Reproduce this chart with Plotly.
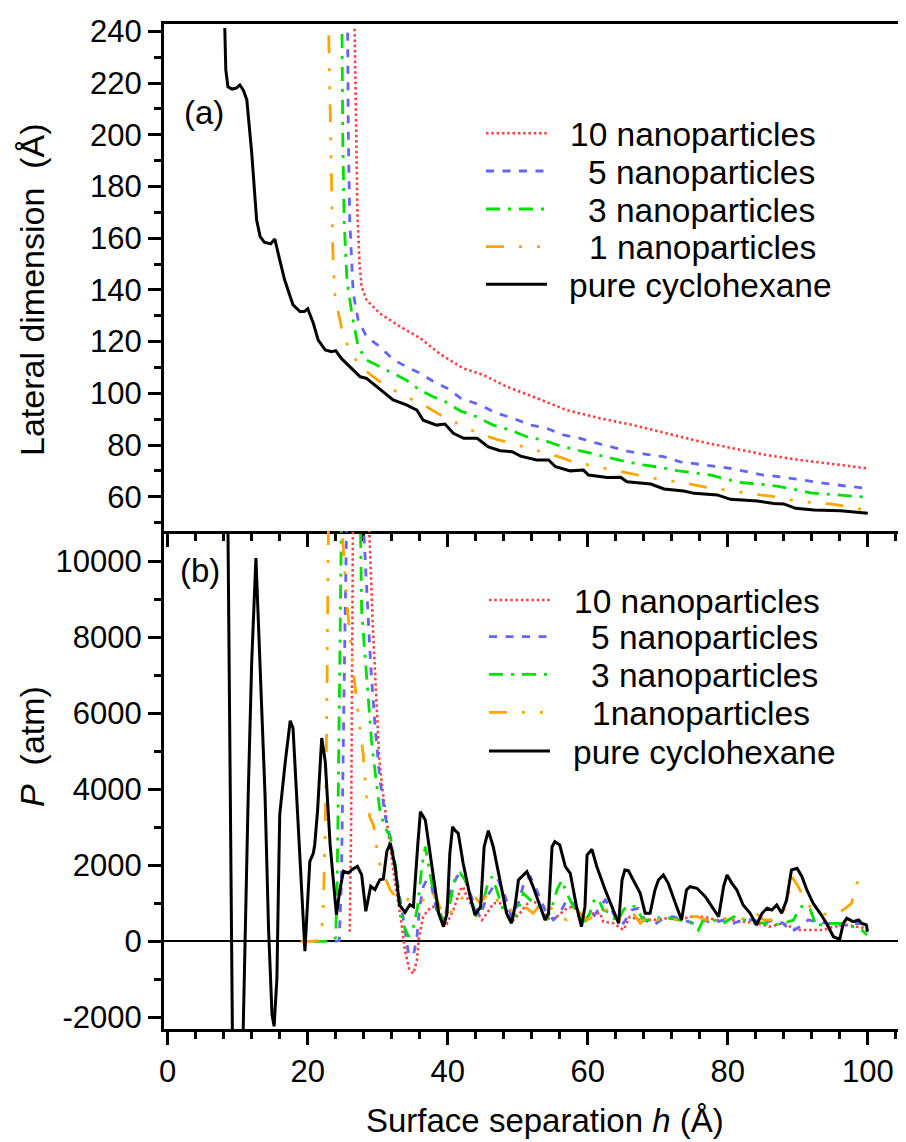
import plotly.graph_objects as go
from plotly.subplots import make_subplots

# ---- panel (a): lateral dimension vs surface separation ----
h_a_pure = [8.15, 8.3, 8.6, 9.2, 9.8, 10.3, 10.8, 11.3, 12.0, 12.7, 13.2, 13.8, 14.7, 15.3, 16.0, 16.7,
            17.9, 18.9, 19.5, 20.0, 20.8, 21.5, 22.5, 23.4, 24.0, 24.8, 26.0, 27.5, 28.4, 29.9, 32.2,
            34.1, 35.6, 36.5, 38.4, 39.6, 40.8, 42.3, 44.2, 45.8, 47.5, 49.2, 50.4, 52.7, 54.4, 55.4,
            57.5, 59.4, 60.1, 62.8, 64.7, 65.6, 69.0, 70.9, 73.7, 75.2, 78.5, 80.4, 84.2, 86.6, 88.0,
            89.7, 92.3, 96.1, 100.0]
lat_pure = [241.3, 225.1, 218.6, 217.7, 218.1, 219.3, 217.3, 213.5, 193.0, 167.0, 160.6, 158.5, 157.8,
            159.7, 151.6, 143.9, 134.2, 131.6, 131.6, 132.7, 127.1, 120.6, 116.8, 116.1, 116.5, 113.5,
            110.3, 106.4, 105.8, 102.6, 97.4, 95.5, 93.5, 89.6, 87.7, 88.1, 84.5, 82.6, 82.6, 79.3, 77.8,
            77.4, 75.7, 74.2, 74.2, 71.6, 70.0, 70.3, 68.4, 67.4, 67.5, 65.8, 64.9, 63.0, 62.2, 61.3,
            60.7, 59.0, 58.3, 57.4, 57.2, 55.5, 54.9, 54.6, 53.6]

h_a_np10 = [26.7, 26.9, 27.1, 27.4, 27.7, 28.4, 30.3, 33.2, 36.1, 38.9, 40.8, 42.2, 45.1, 48.4, 52.2,
            57.0, 61.8, 66.5, 71.3, 76.1, 80.8, 85.6, 90.3, 95.1, 99.9]
lat_np10 = [241.0, 200.0, 170.0, 150.0, 141.2, 136.1, 130.9, 125.8, 121.3, 115.2, 112.2, 109.7, 107.1,
            102.6, 98.7, 93.5, 90.3, 87.7, 84.5, 81.3, 78.7, 76.1, 74.2, 72.7, 71.0]

h_a_np5 = [25.7, 25.8, 26.0, 26.5, 27.2, 28.4, 30.3, 32.3, 34.1, 36.1, 38.0, 39.9, 41.8, 44.6, 47.0,
           49.4, 51.8, 54.1, 56.5, 58.9, 61.3, 63.6, 66.0, 68.4, 70.8, 73.2, 75.6, 77.9, 80.3, 82.7,
           85.1, 87.5, 89.9, 92.2, 94.6, 97.0, 99.9]
lat_np5 = [239.5, 200.0, 167.0, 138.7, 128.4, 121.9, 118.0, 112.9, 110.3, 107.7, 104.5, 102.0, 98.2,
           95.5, 92.3, 90.3, 87.7, 86.5, 83.9, 82.6, 80.7, 79.0, 77.4, 76.4, 75.5, 73.5, 72.7, 71.9,
           71.0, 69.7, 68.4, 67.7, 66.7, 65.8, 64.9, 64.1, 63.2]

h_a_np3 = [24.9, 25.0, 25.2, 25.6, 26.3, 27.2, 28.4, 30.3, 32.2, 34.1, 36.0, 37.9, 39.6, 41.8, 44.1,
           46.5, 48.9, 51.3, 53.7, 56.0, 58.4, 60.8, 63.2, 65.6, 67.9, 70.3, 72.7, 75.1, 77.5, 79.9,
           82.2, 84.6, 87.0, 89.4, 91.8, 94.2, 97.0, 99.9]
lat_np3 = [239.0, 200.0, 167.0, 143.8, 130.9, 118.0, 112.9, 110.3, 107.7, 105.1, 101.3, 98.7, 96.8,
           93.2, 91.0, 87.7, 85.8, 83.2, 81.9, 79.7, 78.1, 76.5, 74.9, 73.5, 72.3, 71.4, 70.1, 69.3,
           68.4, 66.7, 65.4, 64.9, 64.1, 62.9, 61.5, 61.0, 60.3, 59.8]

h_a_np1 = [23.0, 23.3, 23.6, 23.9, 25.1, 26.3, 27.5, 29.4, 31.3, 34.1, 37.0, 39.6, 41.8, 44.4, 47.0,
           49.9, 53.2, 55.6, 57.9, 60.8, 63.7, 65.6, 68.4, 70.8, 73.7, 77.0, 79.4, 82.2, 84.6, 87.5,
           89.4, 92.2, 94.6, 97.5, 99.9]
lat_np1 = [238.5, 190.0, 154.2, 137.4, 121.9, 115.5, 110.3, 106.4, 102.6, 98.7, 94.8, 90.6, 87.7,
           84.5, 82.2, 80.0, 77.4, 75.7, 73.5, 71.9, 70.1, 69.1, 67.7, 66.5, 65.4, 63.6, 62.6, 61.5,
           60.7, 59.8, 58.5, 57.7, 57.2, 56.1, 54.6]

# ---- panel (b): pressure vs surface separation ----
h_b_pure = [8.55, 9.25, 10.0, 10.75, 11.5, 12.0, 12.6, 13.2, 13.9, 14.4, 14.9, 15.2, 15.6, 15.8, 16.0,
            16.8, 17.5, 17.9, 18.9, 19.6, 20.3, 20.8, 21.0, 21.4, 22.0, 22.5, 23.2, 24.1, 24.6, 25.1,
            25.8, 26.3, 27.1, 27.7, 28.3, 29.0, 29.6, 30.3, 30.8, 31.3, 31.8, 32.5, 33.1, 33.9, 34.6,
            35.1, 35.7, 36.1, 36.8, 37.7, 38.7, 39.4, 39.9, 40.3, 40.7, 41.0, 41.5, 42.2, 43.2, 43.9,
            44.7, 45.2, 45.8, 46.5, 47.5, 48.4, 49.1, 49.6, 50.1, 50.6, 51.3, 52.2, 53.2, 53.9, 54.4,
            54.9, 55.3, 56.0, 56.8, 57.5, 58.4, 59.1, 59.6, 59.9, 60.6, 61.3, 62.5, 63.4, 64.4, 64.9,
            65.3, 65.8, 66.5, 67.5, 68.2, 68.9, 69.6, 70.1, 70.8, 71.5, 72.7, 73.4, 74.1, 74.6, 75.6,
            76.8, 77.9, 78.7, 79.4, 79.9, 80.6, 81.3, 82.2, 83.2, 84.1, 84.9, 85.6, 86.3, 87.0, 87.7,
            88.4, 89.1, 89.9, 90.6, 91.3, 92.2, 93.2, 94.1, 95.1, 96.0, 96.5, 97.0, 97.9, 98.7, 99.1,
            99.8, 99.95]
p_pure = [12000, -2600, -3500, -2600, 3858, 7368, 10087, 7368, 3858, 350, -1932, -2237, -966, 1226, 3332,
          4737, 5805, 5613, 2105, -263, 2105, 2316, 2542, 3421, 5350, 4737, 2542, 700, 1358, 1842,
          1797, 1884, 1974, 1753, 789, 1447, 1358, 1621, 1640, 2368, 2587, 1950, 960, 760, 963,
          911, 2489, 3411, 3192, 1963, 737, 384, 737, 2316, 3016, 2929, 2842, 2053, 1174, 692,
          911, 2489, 2911, 2489, 1613, 737, 474, 911, 1613, 1700, 1832, 1437, 911, 561, 737,
          2489, 2621, 2534, 1963, 1789, 911, 384, 911, 2271, 2421, 1960, 1350, 911, 474, 1613,
          1876, 1858, 1613, 1263, 737, 737, 1350, 1613, 1745, 1526, 911, 561, 1350, 1437, 1395,
          1174, 868, 647, 1437, 1745, 1526, 1350, 955, 737, 429, 737, 868, 824, 955, 737,
          1087, 1876, 1921, 1700, 1350, 1000, 737, 474, 121, 53, 474, 605, 516, 561, 474,
          429, 253]

h_b_np10 = [26.0, 26.2, 26.4, 26.55, 28.6, 28.8, 29.3, 29.8, 30.2, 30.7, 31.3, 32.0, 32.6, 33.3, 33.9,
            34.5, 35.1, 35.6, 35.9, 36.5, 37.2, 37.9, 38.9, 39.9, 40.8, 41.8, 42.2, 42.9, 43.7, 44.9,
            45.6, 46.5, 47.5, 48.4, 49.4, 50.3, 51.8, 52.7, 53.7, 54.6, 55.6, 57.0, 57.9, 58.9, 59.9,
            60.8, 61.8, 62.2, 63.7, 65.1, 66.0, 67.5, 69.4, 71.3, 73.2, 74.6, 76.5, 78.4, 80.3, 82.2,
            84.1, 86.0, 87.9, 89.9, 91.8, 93.7, 95.1, 97.0, 98.4, 99.9]
p_np10 = [250, 3000, 9000, 14000, 14000, 10800, 8300, 6150, 4840, 3960, 3200, 2200, 1380, 600, -250,
          -730, -850, -492, 121, 647, 824, 911, 737, 474, 824, 1350, 1437, 1087, 911, 561,
          737, 1000, 1000, 824, 561, 737, 1087, 1000, 737, 561, 647, 868, 911, 737, 647,
          737, 737, 516, 474, 297, 647, 561, 561, 605, 561, 647, 647, 561, 561, 516,
          474, 384, 474, 297, 297, 297, 384, 429, 384, 342]

h_b_np5 = [23.9, 24.5, 24.8, 25.0, 25.3, 25.55, 25.7, 27.8, 28.0, 28.5, 29.0, 29.6, 30.3, 31.1, 31.8,
           32.5, 33.2, 33.9, 34.4, 35.1, 35.6, 36.0, 36.5, 37.0, 37.7, 38.4, 39.4, 40.3, 41.3, 42.0,
           42.7, 43.7, 44.6, 45.6, 46.5, 47.2, 48.2, 49.1, 50.1, 51.0, 51.8, 52.7, 53.9, 55.1, 56.0,
           57.0, 57.9, 58.9, 59.9, 60.8, 61.3, 62.5, 63.2, 64.1, 65.1, 66.3, 67.2, 68.2, 69.4, 70.8,
           72.2, 73.7, 75.1, 76.5, 77.9, 79.4, 80.8, 82.2, 83.7, 85.1, 86.5, 87.9, 89.1, 90.3, 91.5,
           92.7, 94.1, 95.6, 97.0, 98.4, 99.9]
p_np5 = [0, 20, 1500, 4500, 8000, 11000, 14000, 14000, 10800, 9000, 7250, 5700, 4270, 3260, 2718,
         1929, 1150, 300, -330, -380, 121, 911, 1437, 1613, 1437, 824, 474, 1263, 1700, 1789,
         1526, 1000, 647, 1174, 1437, 1613, 1174, 647, 1000, 1613, 1700, 1350, 824, 561, 737,
         1087, 1000, 737, 516, 647, 779, 1087, 911, 561, 474, 824, 868, 561, 429, 605,
         647, 561, 474, 561, 474, 561, 474, 561, 561, 474, 561, 474, 253, 384, 561,
         516, 474, 429, 429, 474, 455]

h_b_np3 = [20.8, 22.0, 23.5, 24.0, 24.2, 24.4, 24.6, 24.85, 25.0, 27.3, 27.5, 27.7, 28.4, 29.1, 29.6,
           30.3, 31.0, 31.8, 32.5, 32.9, 33.3, 33.8, 34.4, 35.1, 35.7, 36.3, 36.8, 37.2, 37.9, 38.7,
           39.6, 40.3, 41.0, 41.8, 42.5, 43.4, 44.1, 44.9, 45.6, 46.3, 47.0, 47.9, 48.9, 49.9, 50.8,
           51.8, 52.7, 54.1, 54.9, 55.6, 56.3, 57.0, 57.7, 58.4, 59.4, 60.3, 61.0, 61.6, 62.2, 63.4,
           64.1, 65.1, 65.8, 66.8, 67.9, 69.1, 70.6, 71.8, 73.2, 74.6, 75.8, 76.5, 77.9, 79.4, 80.8,
           82.2, 83.7, 85.1, 86.5, 87.9, 89.4, 90.1, 90.8, 91.8, 92.7, 93.7, 95.1, 96.5, 97.9, 98.9,
           99.9]
p_np3 = [0, 0, 0, 100, 1500, 4500, 8000, 11000, 14000, 14000, 10800, 8700, 7000, 5300, 4500,
         3450, 3000, 2750, 2016, 1350, 737, 384, 121, 384, 911, 1963, 2489, 2053, 1350, 737,
         561, 1000, 1613, 1789, 1613, 1087, 647, 911, 1437, 1700, 1350, 824, 561, 737, 1263,
         1087, 1000, 561, 911, 1350, 1613, 1263, 1000, 737, 474, 737, 1132, 1087, 824, 737,
         474, 824, 955, 911, 561, 561, 647, 605, 561, 516, 297, 561, 561, 474, 647,
         561, 516, 474, 429, 474, 561, 824, 955, 824, 384, 474, 474, 474, 384, 342,
         166]

h_b_np1 = [19.0, 20.5, 21.5, 21.9, 22.2, 22.5, 22.7, 22.95, 23.1, 24.7, 24.9, 25.6, 26.5, 27.2, 27.9,
           28.4, 28.9, 29.4, 30.1, 30.6, 31.0, 31.8, 32.7, 33.7, 34.6, 35.6, 36.5, 37.5, 38.4, 39.1,
           40.1, 41.0, 41.8, 42.7, 43.7, 44.6, 45.6, 46.3, 47.5, 48.4, 49.4, 50.3, 51.3, 52.2, 53.2,
           54.1, 55.1, 56.0, 57.0, 57.9, 58.9, 59.9, 60.8, 61.3, 62.7, 64.1, 65.1, 66.5, 67.5, 68.7,
           69.9, 71.3, 72.7, 74.1, 75.6, 77.0, 78.4, 79.9, 81.3, 82.7, 84.1, 85.1, 86.5, 87.9, 88.7,
           89.1, 89.9, 90.6, 91.3, 92.7, 94.1, 95.3, 96.5, 97.7, 98.2, 98.7, 99.4, 99.9]
p_np1 = [0, 0, 20, 150, 700, 2982, 5613, 10876, 14000, 14000, 10800, 8900, 7139, 6000, 4950,
         3805, 3250, 3050, 2139, 1842, 1700, 1350, 1132, 1042, 1132, 1000, 1087, 1350, 1132, 779,
         647, 955, 1087, 1263, 1218, 1000, 1218, 1305, 955, 824, 824, 955, 868, 737, 955,
         1000, 824, 647, 561, 779, 737, 561, 647, 779, 824, 561, 561, 737, 474, 692,
         561, 647, 561, 647, 647, 561, 605, 605, 647, 561, 737, 561, 561, 737, 1263,
         1700, 1500, 1263, 1000, 737, 711, 753, 824, 1000, 1437, 1613, 1613, 1568]

names_a = ["10 nanoparticles", "5 nanoparticles", "3 nanoparticles", "1 nanoparticles", "pure cyclohexane"]
names_b = ["10 nanoparticles", "5 nanoparticles", "3 nanoparticles", "1nanoparticles", "pure cyclohexane"]

h_ticks = [0, 20, 40, 60, 80, 100]
h_labels = ["0", "20", "40", "60", "80", "100"]
lat_ticks = [60, 80, 100, 120, 140, 160, 180, 200, 220, 240]
lat_labels = ["60", "80", "100", "120", "140", "160", "180", "200", "220", "240"]
p_ticks = [-2000, 0, 2000, 4000, 6000, 8000, 10000]
p_labels = ["-2000", "0", "2000", "4000", "6000", "8000", "10000"]

# line styles, in legend order: 10, 5, 3, 1 nanoparticles, pure
colors = ["#ff4040", "#6464ff", "#00e000", "#ffa500", "black"]
dashes = ["2.5px,2.8px", "8px,8.5px", "14px,8px,3px,8px", "18px,15px,3px,15px,3px,15px", "solid"]
widths = [2.6, 2.8, 2.8, 2.8, 3]

FONT = "Liberation Sans, Arial, sans-serif"
# the page body adds an 8px margin, so the figure is drawn 8px smaller and everything is
# positioned in screen pixels minus that offset
OFF = 8
W, H = 906 - OFF, 1142 - OFF
ML, MR, MT, MB = 164 - OFF, 0, 24 - OFF, 1142 - 1029
split = 0.4955

fig = make_subplots(rows=2, cols=1, vertical_spacing=0, row_heights=[1 - split, split])

top_series = [(h_a_np10, lat_np10), (h_a_np5, lat_np5), (h_a_np3, lat_np3), (h_a_np1, lat_np1), (h_a_pure, lat_pure)]
bot_series = [(h_b_np10, p_np10), (h_b_np5, p_np5), (h_b_np3, p_np3), (h_b_np1, p_np1), (h_b_pure, p_pure)]

for i in range(5):
    hx, ly = top_series[i]
    fig.add_trace(go.Scatter(x=hx, y=ly, mode="lines", name=names_a[i], showlegend=False,
                             line=dict(color=colors[i], dash=dashes[i], width=widths[i])), row=1, col=1)
for i in range(5):
    hx, py_ = bot_series[i]
    fig.add_trace(go.Scatter(x=hx, y=py_, mode="lines", name=names_b[i], showlegend=False,
                             line=dict(color=colors[i], dash=dashes[i], width=widths[i])), row=2, col=1)

axis_common = dict(showgrid=False, zeroline=False, showline=True, linecolor="black", linewidth=3,
                   ticks="outside", ticklen=13, tickwidth=3, tickcolor="black",
                   tickfont=dict(family=FONT, size=31, color="black"))
minor_x = dict(dtick=4, tick0=0, ticklen=7, tickwidth=2.5, tickcolor="black", ticks="outside")
xr = [-0.53, 105.46]

fig.update_xaxes(range=xr, tickvals=h_ticks, ticktext=h_labels, showticklabels=False, mirror=True,
                 minor=minor_x, **axis_common, row=1, col=1)
fig.update_xaxes(range=xr, tickvals=h_ticks, ticktext=h_labels, ticklabelstandoff=0,
                 minor=minor_x, **axis_common, row=2, col=1)
fig.update_yaxes(range=[46.73, 242.86], tickvals=lat_ticks, ticktext=lat_labels, ticklabelstandoff=0,
                 minor=dict(dtick=10, tick0=0, ticklen=7, tickwidth=2.5, tickcolor="black", ticks="outside"),
                 **axis_common, row=1, col=1)
fig.update_yaxes(range=[-2308, 10797], tickvals=p_ticks, ticktext=p_labels, ticklabelstandoff=0,
                 minor=dict(dtick=1000, tick0=0, ticklen=7, tickwidth=2.5, tickcolor="black", ticks="outside"),
                 **axis_common, row=2, col=1)
fig.update_yaxes(zeroline=True, zerolinecolor="black", zerolinewidth=1.6, row=2, col=1)


def xp(px):
    # screen x pixel -> paper coordinate
    return (px - OFF - ML) / (W - ML - MR)


def yp(py):
    # screen y pixel -> paper coordinate
    return (H - MB - (py - OFF)) / (H - MT - MB)


shapes = []
annotations = []

# hand-drawn legends, one per panel
legend_rows = [
    (names_a, [133.3, 171, 209, 246.7, 284.3], 486, 547, [568, 586, 586, 587, 567]),
    (names_b, [600, 636.7, 674.3, 712.3, 751], 489, 550, [572, 589, 589, 590, 571]),
]
for names, ys, x0, x1, tx in legend_rows:
    for i, name in enumerate(names):
        shapes.append(dict(type="line", xref="paper", yref="paper", x0=xp(x0), x1=xp(x1),
                           y0=yp(ys[i]), y1=yp(ys[i]),
                           line=dict(color=colors[i], dash=dashes[i], width=widths[i])))
        annotations.append(dict(xref="paper", yref="paper", x=xp(tx[i]), y=yp(ys[i] + 1),
                                text=name, showarrow=False, xanchor="left", yanchor="middle",
                                font=dict(family=FONT, size=33.5, color="black")))

# panel tags and axis titles
annotations += [
    dict(xref="paper", yref="paper", x=xp(204), y=yp(113), text="(a)", showarrow=False,
         xanchor="center", yanchor="middle", font=dict(family=FONT, size=33, color="black")),
    dict(xref="paper", yref="paper", x=xp(200), y=yp(570), text="(b)", showarrow=False,
         xanchor="center", yanchor="middle", font=dict(family=FONT, size=33, color="black")),
    dict(xref="paper", yref="paper", x=xp(32), y=yp(290), text="Lateral dimension\u00a0 (Å)",
         textangle=-90, showarrow=False, xanchor="center", yanchor="middle",
         font=dict(family=FONT, size=34, color="black")),
    dict(xref="paper", yref="paper", x=xp(32), y=yp(747), text="<i>P</i>\u00a0 (atm)",
         textangle=-90, showarrow=False, xanchor="center", yanchor="middle",
         font=dict(family=FONT, size=34, color="black")),
    dict(xref="paper", yref="paper", x=xp(545), y=yp(1141), text="Surface separation <i>h</i> (Å)",
         showarrow=False, xanchor="center", yanchor="bottom",
         font=dict(family=FONT, size=33, color="black")),
]

fig.update_layout(width=W, height=H, margin=dict(l=ML, r=MR, t=MT, b=MB),
                  plot_bgcolor="white", paper_bgcolor="white", showlegend=False,
                  font=dict(family=FONT, color="black"),
                  shapes=shapes, annotations=annotations)

fig.write_html("out.html")
